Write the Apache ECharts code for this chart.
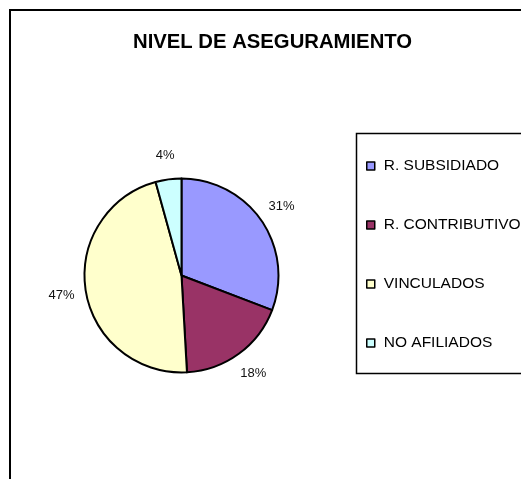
<!DOCTYPE html>
<html>
<head>
<meta charset="utf-8">
<script src="https://cdn.jsdelivr.net/npm/echarts@6/dist/echarts.min.js"></script>
<style>
html,body{margin:0;padding:0;background:#fff;overflow:hidden;}
#chart{width:521px;height:479px;}
</style>
</head>
<body>
<div id="chart"></div>
<script>
const categories = ['R. SUBSIDIADO', 'R. CONTRIBUTIVO', 'VINCULADOS', 'NO AFILIADOS'];
const values = [30.8, 18.3, 46.6, 4.3];
const colors = ['#9999FF', '#993366', '#FFFFCC', '#CCFFFF'];
const titleText = 'NIVEL DE ASEGURAMIENTO';

const data = categories.map((c, i) => ({ name: c, value: values[i], itemStyle: { color: colors[i] } }));
const labelData = categories.map((c, i) => ({ name: c, value: values[i] }));

const chart = echarts.init(document.getElementById('chart'), null, { renderer: 'canvas' });
chart.setOption({
  animation: false,
  backgroundColor: '#fff',
  title: {
    text: titleText,
    left: 133,
    top: 32,
    padding: 0,
    textStyle: { fontFamily: 'Liberation Sans, Arial, sans-serif', fontSize: 20.3, fontWeight: 'bold', color: '#000' }
  },
  graphic: [
    { type: 'rect', shape: { x: 10, y: 10, width: 700, height: 700 }, style: { fill: 'none', stroke: '#000', lineWidth: 2 }, z: -1 },
    { type: 'rect', shape: { x: 356.5, y: 133.5, width: 400, height: 240 }, style: { fill: 'none', stroke: '#000', lineWidth: 1.5 }, z: -1 }
  ],
  legend: {
    orient: 'vertical',
    left: 366,
    top: 158,
    padding: 0,
    itemGap: 43,
    itemWidth: 8,
    itemHeight: 8,
    icon: 'rect',
    data: categories,
    selectedMode: false,
    itemStyle: { borderColor: '#000', borderWidth: 1.5 },
    textStyle: { fontFamily: 'Liberation Sans, Arial, sans-serif', fontSize: 15.5, color: '#000', lineHeight: 16, padding: [0, 0, 0, 4] }
  },
  series: [
    {
      type: 'pie',
      center: [181.5, 275.5],
      radius: [0, 97],
      startAngle: 90,
      clockwise: true,
      data: data,
      label: { show: false },
      labelLine: { show: false },
      emphasis: { disabled: true },
      itemStyle: { borderColor: '#000', borderWidth: 2 }
    },
    {
      type: 'pie',
      center: [181.5, 275.5],
      radius: [97, 140],
      startAngle: 90,
      clockwise: true,
      silent: true,
      data: labelData,
      itemStyle: { color: 'rgba(0,0,0,0)', borderWidth: 0 },
      emphasis: { disabled: true },
      labelLine: { show: false },
      label: {
        show: true,
        position: 'inside',
        fontFamily: 'Liberation Sans, Arial, sans-serif',
        fontSize: 13,
        color: '#111',
        formatter: p => Math.round(p.percent) + '%'
      }
    }
  ]
});
</script>
</body>
</html>
